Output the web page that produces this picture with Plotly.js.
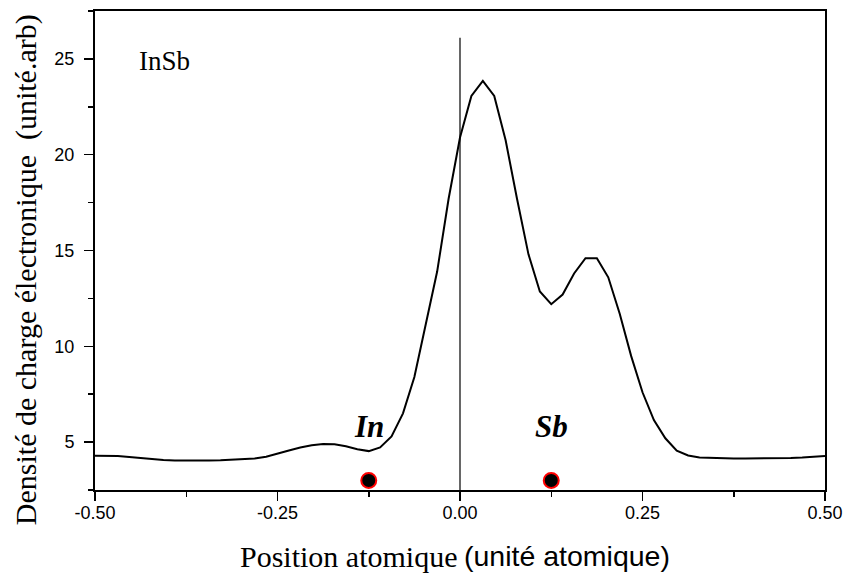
<!DOCTYPE html>
<html>
<head>
<meta charset="utf-8">
<script src="https://cdn.plot.ly/plotly-3.0.1.min.js"></script>
<style>html,body{margin:0;padding:0;background:#fff;}#chart{width:845px;height:574px;}</style>
</head>
<body>
<div id="chart"></div>
<script>
// Position atomique (unité atomique)
const positions = [
  -0.5, -0.4844, -0.4688, -0.4531, -0.4375, -0.4219, -0.4063, -0.3906,
  -0.375, -0.3594, -0.3438, -0.3281, -0.3125, -0.2969, -0.2813, -0.2656,
  -0.25, -0.2344, -0.2188, -0.2031, -0.1875, -0.1719, -0.1563, -0.1406,
  -0.125, -0.1094, -0.0938, -0.0781, -0.0625, -0.0469, -0.0313, -0.0156,
  0, 0.0156, 0.0313, 0.0469, 0.0625, 0.0781, 0.0938, 0.1094,
  0.125, 0.1406, 0.1563, 0.1719, 0.1875, 0.2031, 0.2188, 0.2344,
  0.25, 0.2656, 0.2813, 0.2969, 0.3125, 0.3281, 0.3438, 0.3594,
  0.375, 0.3906, 0.4063, 0.4219, 0.4375, 0.4531, 0.4688, 0.4844, 0.5
];
// Densité de charge électronique (unité.arb)
const density = [
  4.29, 4.29, 4.27, 4.22, 4.16, 4.11, 4.07, 4.04,
  4.03, 4.03, 4.04, 4.05, 4.07, 4.09, 4.14, 4.24,
  4.38, 4.56, 4.72, 4.84, 4.90, 4.89, 4.78, 4.63,
  4.53, 4.72, 5.30, 6.50, 8.40, 11.10, 13.90, 17.70,
  20.90, 23.07, 23.85, 23.07, 20.75, 17.70, 14.80, 12.86,
  12.20, 12.70, 13.80, 14.60, 14.60, 13.60, 11.70, 9.50,
  7.60, 6.15, 5.20, 4.55, 4.30, 4.20, 4.17, 4.16,
  4.15, 4.15, 4.15, 4.15, 4.16, 4.17, 4.19, 4.22, 4.27
];
// Atoms
const atomNames = ['In', 'Sb'];
const atomX = [-0.125, 0.125];
const atomY = [3.0, 3.0];
const atomLabelY = [5.8, 5.8];
// Reference line at x = 0
const refLineX = [0, 0];
const refLineY = [2.5, 26.1];
// Axes
const xTickVals = [-0.5, -0.25, 0, 0.25, 0.5];
const xTickText = ['-0.50', '-0.25', '0.00', '0.25', '0.50'];
const yTickVals = [5, 10, 15, 20, 25];
const yTickText = ['5', '10', '15', '20', '25'];

const serif = 'Liberation Serif, Times New Roman, serif';
const sans = 'Liberation Sans, Arial, sans-serif';

const traces = [
  {x: refLineX, y: refLineY, mode: 'lines', line: {color: '#000', width: 1.2}, hoverinfo: 'skip'},
  {x: positions, y: density, mode: 'lines', line: {color: '#000', width: 2}},
  {x: atomX, y: atomY, mode: 'markers', marker: {color: '#000', size: 15, line: {color: '#ff0000', width: 2}}}
];

const annotations = [
  {x: -0.405, y: 24.9, xref: 'x', yref: 'y', text: 'InSb', showarrow: false,
   font: {family: serif, size: 27, color: '#000'}},
  {x: -0.0945, y: 0.459, xref: 'paper', yref: 'paper', textangle: -90,
   text: 'Densité de charge électronique\u00a0\u00a0(unité.arb)', showarrow: false,
   font: {family: serif, size: 30, color: '#000'}, xanchor: 'center', yanchor: 'middle'},
  {x: 0.5, y: -0.138, xref: 'paper', yref: 'paper', text: 'Position atomique',
   showarrow: false, font: {family: serif, size: 30, color: '#000'}, xanchor: 'right', yanchor: 'middle'},
  {x: 0.5027, y: -0.138, xref: 'paper', yref: 'paper', text: '(unité atomique)',
   showarrow: false, font: {family: sans, size: 28.5, color: '#000'}, xanchor: 'left', yanchor: 'middle'}
];
atomNames.forEach((n, i) => {
  annotations.push({x: atomX[i], y: atomLabelY[i], xref: 'x', yref: 'y', text: '<b><i>' + n + '</i></b>',
    showarrow: false, font: {family: serif, size: 31, color: '#000'}});
});

const layout = {
  width: 845, height: 574,
  margin: {l: 95, r: 20, t: 11, b: 84, pad: 0},
  paper_bgcolor: '#fff', plot_bgcolor: '#fff',
  showlegend: false,
  xaxis: {
    range: [-0.5, 0.5], tickvals: xTickVals, ticktext: xTickText,
    ticks: 'outside', ticklen: 9, tickwidth: 1.5, tickcolor: '#000',
    minor: {dtick: 0.125, tick0: 0, ticks: 'outside', ticklen: 5, tickwidth: 1.5, tickcolor: '#000'},
    showline: true, linewidth: 2, linecolor: '#000', mirror: true,
    showgrid: false, zeroline: false,
    tickfont: {family: sans, size: 18, color: '#000'}, ticklabelstandoff: -4
  },
  yaxis: {
    range: [2.5, 27.5], tickvals: yTickVals, ticktext: yTickText,
    ticks: 'outside', ticklen: 9, tickwidth: 1.5, tickcolor: '#000',
    minor: {dtick: 2.5, tick0: 0, ticks: 'outside', ticklen: 5, tickwidth: 1.5, tickcolor: '#000'},
    showline: true, linewidth: 2, linecolor: '#000', mirror: true,
    showgrid: false, zeroline: false,
    tickfont: {family: sans, size: 18, color: '#000'}, ticklabelstandoff: 6
  },
  annotations: annotations
};

Plotly.newPlot('chart', traces, layout, {displayModeBar: false, staticPlot: true});
</script>
</body>
</html>
